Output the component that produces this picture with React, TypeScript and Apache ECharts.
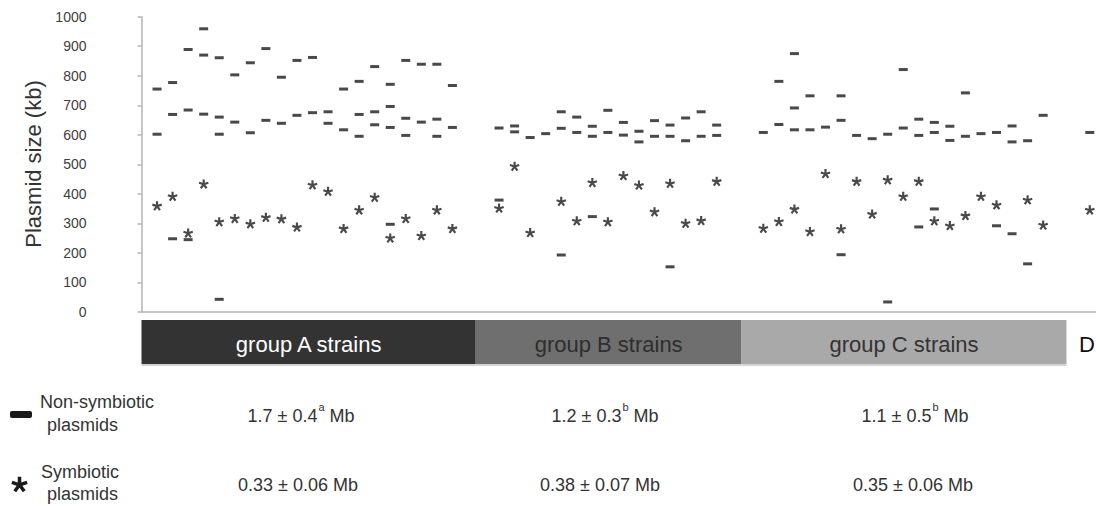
import React, { useEffect, useRef } from "react";
import * as echarts from "echarts";

// ---------- data (kb) ----------
const groupANonSym: number[][] = [
  [755, 602], [777, 669, 248], [889, 684, 245], [959, 870, 670], [861, 660, 602, 43],
  [803, 643], [844, 607], [892, 649], [795, 639], [852, 666],
  [862, 675], [678, 639], [755, 617], [781, 669, 595], [831, 678, 634],
  [771, 696, 625, 297], [852, 656, 598], [839, 643], [839, 653, 595], [767, 625],
];
const groupASym: (number | null)[] = [
  359, 391, 267, 433, 305, 316, 298, 320, 315, 287, 430, 408, 282, 345, 388, 250, 316, 258, 345, 282,
];
const groupBNonSym: number[][] = [
  [623, 379], [630, 610], [591], [604], [678, 622, 193],
  [660, 608], [629, 595, 323], [683, 608], [642, 599], [612, 576],
  [648, 595], [633, 595, 153], [657, 580], [678, 595], [633, 598],
];
const groupBSym: (number | null)[] = [
  351, 493, 268, null, 374, 308, 438, 305, 461, 429, 339, 435, 300, 309, 442,
];
const groupCNonSym: number[][] = [
  [608], [781, 635], [875, 691, 617], [732, 617], [626],
  [732, 649, 194], [598], [587], [602, 34], [821, 623],
  [653, 598, 288], [642, 608, 349], [629, 581], [742, 595], [604],
  [608, 292], [630, 576, 265], [580, 163], [666],
];
const groupCSym: (number | null)[] = [
  283, 306, 348, 272, 468, 281, 442, 331, 447, 391, 442, 308, 292, 326, 391, 362, null, 379, 294,
];
const groupDNonSym: number[][] = [[608]];
const groupDSym: (number | null)[] = [345];

const groupNames = ["group A strains", "group B strains", "group C strains", "D"];
const groupBands: number[][] = [[0, 21.5], [21.5, 38.6], [38.6, 59.5], [59.5, 62.4]];
const yTicks = { min: 0, max: 1000, interval: 100 };

const nonSymLabel = ["Non-symbiotic", "plasmids"];
const symLabel = ["Symbiotic", "plasmids"];
const nonSymMeans = [
  { main: "1.7 ± 0.4", sup: "a", unit: " Mb" },
  { main: "1.2 ± 0.3", sup: "b", unit: " Mb" },
  { main: "1.1 ± 0.5", sup: "b", unit: " Mb" },
];
const symMeans = ["0.33 ± 0.06 Mb", "0.38 ± 0.07 Mb", "0.35 ± 0.06 Mb"];

// ---------- styling ----------
const FONT = "'Liberation Sans', Arial, Helvetica, sans-serif";
const bandColors = ["#333333", "#6f6f6f", "#a9a9a9", "rgba(0,0,0,0)"];
const bandText = ["#ffffff", "#2e2e2e", "#333333", "#111111"];
const AXIS_COLOR = "#b4b4b4";

function asteriskPath(): string {
  const arms = 5;
  const R = 50;
  const hw = 11;
  let d = "";
  for (let i = 0; i < arms; i++) {
    const t = -Math.PI / 2 + (i * 2 * Math.PI) / arms;
    const dx = Math.cos(t), dy = Math.sin(t);
    const px = -dy, py = dx;
    const c = 50;
    const pts = [
      [c + px * hw, c + py * hw],
      [c + dx * R + px * hw, c + dy * R + py * hw],
      [c + dx * R - px * hw, c + dy * R - py * hw],
      [c - px * hw, c - py * hw],
    ];
    d += `M${pts[0][0].toFixed(2)} ${pts[0][1].toFixed(2)}`;
    for (let k = 1; k < 4; k++) d += `L${pts[k][0].toFixed(2)} ${pts[k][1].toFixed(2)}`;
    d += "Z";
  }
  return d;
}
const STAR_D = asteriskPath();
echarts.graphic.registerShape("asterisk", echarts.graphic.extendPath(STAR_D, {}) as any);

function buildData() {
  const nonSyms = [groupANonSym, groupBNonSym, groupCNonSym, groupDNonSym];
  const syms = [groupASym, groupBSym, groupCSym, groupDSym];
  const ns: number[][] = [];
  const s: number[][] = [];
  let start = 1;
  nonSyms.forEach((g, gi) => {
    g.forEach((vals, i) => {
      vals.forEach((v) => ns.push([start + i, v]));
      const sv = syms[gi][i];
      if (sv != null) s.push([start + i, sv]);
    });
    start += g.length + 2;
  });
  return { ns, s };
}

function measure(text: string, size: number): number {
  const ctx = document.createElement("canvas").getContext("2d");
  if (!ctx) return text.length * size * 0.55;
  ctx.font = `${size}px ${FONT}`;
  return ctx.measureText(text).width;
}

export default function App() {
  const ref = useRef<HTMLDivElement>(null);
  useEffect(() => {
    if (!ref.current) return;
    const chart = echarts.init(ref.current, null, { renderer: "svg" });
    const { ns, s } = buildData();
    const meanX = [301, 605, 915];
    const symX = [298, 600, 913];
    const txt = (text: string, x: number, y: number, size: number, fill: string, align = "center") => ({
      type: "text",
      x,
      y,
      silent: true,
      style: {
        text,
        fill,
        fontSize: size,
        fontFamily: FONT,
        align,
        textAlign: align,
        verticalAlign: "middle",
        textVerticalAlign: "middle",
      },
    });
    const graphic: any[] = [
      {
        type: "text",
        x: 33,
        y: 164,
        rotation: Math.PI / 2,
        silent: true,
        style: {
          text: "Plasmid size (kb)",
          fill: "#333333",
          fontSize: 22,
          fontFamily: FONT,
          align: "center",
          textAlign: "center",
          verticalAlign: "middle",
          textVerticalAlign: "middle",
        },
      },
      { type: "rect", shape: { x: 10, y: 411, width: 22, height: 7, r: 2 }, style: { fill: "#1a1a1a" } },
      txt(nonSymLabel[0], 40, 402, 18, "#333333", "left"),
      txt(nonSymLabel[1], 47, 425, 18, "#333333", "left"),
      {
        type: "asterisk",
        x: 19.5 - 50 * 0.16,
        y: 484 - 45 * 0.16,
        scaleX: 0.16,
        scaleY: 0.16,
        style: { fill: "#1a1a1a" },
      },
      txt(symLabel[0], 41, 472, 18, "#333333", "left"),
      txt(symLabel[1], 47, 494, 18, "#333333", "left"),
    ];
    nonSymMeans.forEach((m, i) => {
      const w1 = measure(m.main, 18);
      const w2 = measure(m.sup, 11) + 1;
      const w3 = measure(m.unit, 18);
      const x0 = meanX[i] - (w1 + w2 + w3) / 2;
      graphic.push(txt(m.main, x0, 416, 18, "#333333", "left"));
      graphic.push(txt(m.sup, x0 + w1 + 1, 407, 11, "#333333", "left"));
      graphic.push(txt(m.unit, x0 + w1 + w2, 416, 18, "#333333", "left"));
    });
    symMeans.forEach((m, i) => graphic.push(txt(m, symX[i], 485, 18, "#333333")));

    chart.setOption({
      animation: false,
      grid: { left: 141.5, top: 16.7, width: 954.5, height: 295.3 },
      xAxis: {
        type: "value",
        min: 0,
        max: 61.4,
        axisLine: { show: true, lineStyle: { color: AXIS_COLOR, width: 1.5 } },
        axisTick: { show: false },
        axisLabel: { show: false },
        splitLine: { show: false },
      },
      yAxis: {
        type: "value",
        min: yTicks.min,
        max: yTicks.max,
        interval: yTicks.interval,
        axisLine: { show: true, lineStyle: { color: AXIS_COLOR, width: 1.5 } },
        axisTick: { show: true, length: 4, lineStyle: { color: AXIS_COLOR, width: 1.5 } },
        axisLabel: { margin: 55, fontSize: 14, color: "#404040", fontFamily: FONT, formatter: (v: number) => String(v) },
        splitLine: { show: false },
      },
      series: [
        {
          type: "scatter",
          data: ns,
          symbol: "rect",
          symbolSize: [9, 3],
          itemStyle: { color: "#1c1c1c" },
          silent: true,
          z: 3,
        },
        {
          type: "scatter",
          data: s,
          symbol: "path://" + STAR_D,
          symbolKeepAspect: true,
          symbolSize: 10,
          itemStyle: { color: "#1c1c1c" },
          silent: true,
          z: 3,
        },
        {
          type: "custom",
          data: groupBands,
          clip: false,
          silent: true,
          renderItem: (params: any, api: any) => {
            const i = params.dataIndex;
            const x0 = api.coord([api.value(0), 0])[0];
            const x1 = api.coord([api.value(1), 0])[0];
            const isLast = i === groupNames.length - 1;
            const children: any[] = [
              { type: "rect", shape: { x: x0, y: 320, width: x1 - x0, height: 44 }, style: { fill: bandColors[i] } },
            ];
            if (!isLast)
              children.push({ type: "rect", shape: { x: x0, y: 364, width: x1 - x0, height: 2 }, style: { fill: "#d4d4d4" } });
            children.push({
              type: "text",
              x: isLast ? api.getWidth() - 1 : (x0 + x1) / 2,
              y: 344,
              style: {
                text: groupNames[i],
                fill: bandText[i],
                fontSize: 22,
                fontFamily: FONT,
                align: isLast ? "right" : "center",
                textAlign: isLast ? "right" : "center",
                verticalAlign: "middle",
                textVerticalAlign: "middle",
              },
            });
            return { type: "group", children };
          },
        },
      ],
      graphic,
    });
    return () => chart.dispose();
  }, []);
  return <div ref={ref} style={{ position: "absolute", left: 0, top: 0, width: 1096, height: 506 }} />;
}
